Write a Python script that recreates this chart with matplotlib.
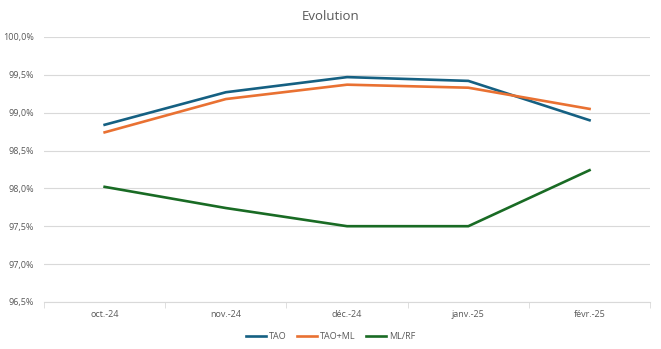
import matplotlib.pyplot as plt
import numpy as np

# Données
mois = ['oct.-24', 'nov.-24', 'déc.-24', 'janv.-25', 'févr.-25']
tao = [98.84, 99.27, 99.47, 99.42, 98.90]
tao_ml = [98.74, 99.18, 99.37, 99.33, 99.05]
ml_rf = [98.02, 97.74, 97.50, 97.50, 98.24]
y_ticks = [96.5, 97.0, 97.5, 98.0, 98.5, 99.0, 99.5, 100.0]

plt.rcParams['font.family'] = ['Open Sans', 'DejaVu Sans']
gris = '#595959'

fig = plt.figure(figsize=(6.61, 3.49), dpi=100)
ax = fig.add_axes([0.0666, 0.135, 0.917, 0.759])

x = np.arange(len(mois))
ax.plot(x, tao, color='#156082', linewidth=1.9, label='TAO')
ax.plot(x, tao_ml, color='#E97132', linewidth=1.9, label='TAO+ML')
ax.plot(x, ml_rf, color='#196B24', linewidth=1.9, label='ML/RF')

ax.set_xlim(-0.5, len(mois) - 0.5)
ax.set_ylim(96.5, 100.0)
ax.set_yticks(y_ticks)
ax.set_yticklabels([f'{v:.1f}%'.replace('.', ',') for v in y_ticks])
ax.set_xticks(x)
ax.set_xticklabels(mois)
ax.set_xticks(np.arange(-0.5, len(mois)), minor=True)

ax.grid(axis='y', color='#D9D9D9', linewidth=0.8)
ax.set_axisbelow(True)
for s in ['top', 'right', 'left']:
    ax.spines[s].set_visible(False)
ax.spines['bottom'].set_color('#D9D9D9')
ax.tick_params(axis='y', length=0, labelsize=6.5, colors=gris, pad=7)
ax.tick_params(axis='x', which='major', length=0, labelsize=6.5, colors=gris, pad=6)
ax.tick_params(axis='x', which='minor', length=4, color='#D9D9D9')

fig.suptitle('Evolution', x=0.5, y=0.97, fontsize=9.5, color=gris)
fig.legend(loc='lower center', bbox_to_anchor=(0.5, 0.0), ncol=3, frameon=False,
           fontsize=6.5, labelcolor=gris, handlelength=2.2, handletextpad=0.3,
           columnspacing=1.2)

fig.savefig('out.png', dpi=100)
